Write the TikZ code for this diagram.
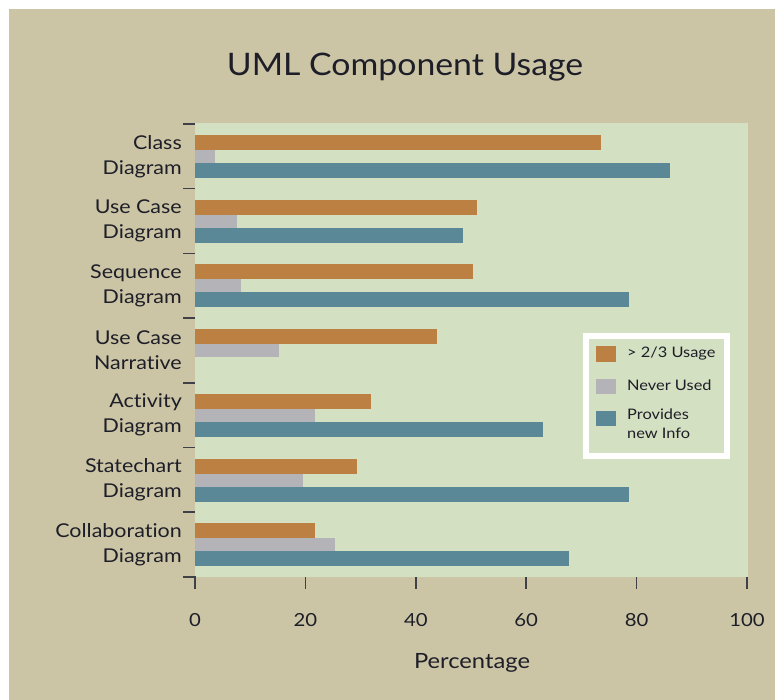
\documentclass[tikz,border=0pt]{standalone}
\usepackage{fontspec}
\setmainfont{Lato}[FakeStretch=1.13, Ligatures=NoCommon]
\newfontfamily\titlefont{Lato}[FakeStretch=1.09, Ligatures=NoCommon]
\definecolor{bgtan}{HTML}{CBC5A5}
\definecolor{plotbg}{HTML}{D4E0C2}
\definecolor{barorange}{HTML}{BC8142}
\definecolor{bargray}{HTML}{B4B4B8}
\definecolor{barblue}{HTML}{5A8896}
\definecolor{ink}{HTML}{1E1E28}
\tikzset{
  x=1pt, y=-1pt,
  tickline/.style={draw=ink!85, line width=1.6pt},
  catlabel/.style={anchor=east, align=right, font=\fontsize{19}{25}\selectfont, text=ink, inner sep=0pt},
  numlabel/.style={font=\fontsize{18}{20}\selectfont, text=ink, inner sep=0pt},
  legtext/.style={anchor=west, align=left, font=\fontsize{14.5}{19}\selectfont, text=ink, inner sep=0pt},
}
\newcommand{\xv}[1]{195+5.52*#1}
\begin{document}
\begin{tikzpicture}
\useasboundingbox (0,0) rectangle (775,700);
\fill[white] (0,0) rectangle (775,700);
\fill[bgtan] (9,9) rectangle (775,700);
% plot area
\fill[plotbg] (195,123) rectangle (747.5,577);

% title
\node[font=\titlefont\fontsize{31}{34}\selectfont, text=ink] (title) at (405,67) {UML Component Usage};

% bars: group index, orange, gray, blue values
\foreach \i/\o/\g/\b/\name in {0/73.5/3.6/86/Class\\Diagram,
                               1/51/7.6/48.5/Use Case\\Diagram,
                               2/50.4/8.3/78.6/Sequence\\Diagram,
                               3/43.8/15.2/0/Use Case\\Narrative,
                               4/31.9/21.7/63/Activity\\Diagram,
                               5/29.3/19.6/78.6/Statechart\\Diagram,
                               6/21.7/25.4/67.8/Collaboration\\Diagram}{
  \pgfmathsetmacro{\t}{124+64.7*\i}
  \fill[barorange] (195,\t+11) rectangle (\xv{\o},\t+26);
  \fill[bargray]   (195,\t+26) rectangle (\xv{\g},\t+39);
  \ifdim \b pt>0pt
    \fill[barblue] (195,\t+39) rectangle (\xv{\b},\t+54);
  \fi
  \draw[tickline] (183,\t) -- (195,\t);
  \node[catlabel] (cat\i) at (182,\t+32.5) {\name};
}

% corner tick at the origin
\draw[tickline] (183,577) -- (195,577) -- (195,589);
% x-axis ticks and labels
\foreach \v in {0,20,40,60,80,100}{
  \ifnum\v>0
    \draw[tickline] (\xv{\v},577) -- (\xv{\v},589);
  \fi
  \node[numlabel] (tick\v) at (\xv{\v},620) {\v};
}
\node[font=\fontsize{21}{24}\selectfont, text=ink] (xlabel) at (472,663) {Percentage};

% legend
\fill[white] (583,333) rectangle (730,459);
\fill[plotbg] (589,339) rectangle (724,453);
\fill[barorange] (596,346) rectangle (616,362);
\fill[bargray]   (596,379) rectangle (616,394);
\fill[barblue]   (596,411) rectangle (616,426);
\node[legtext] (leg1) at (627,353) {> 2/3 Usage};
\node[legtext] (leg2) at (627,385) {Never Used};
\node[legtext, anchor=north west] (leg3) at (627,409) {Provides\\new Info};
\end{tikzpicture}
\end{document}
